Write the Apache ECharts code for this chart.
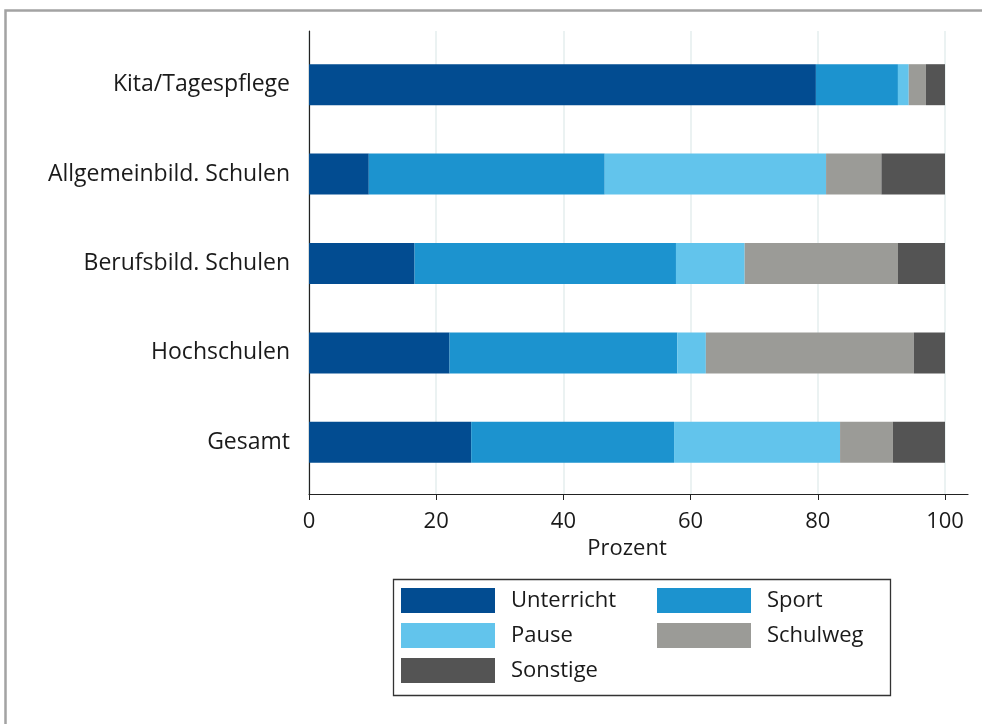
<!DOCTYPE html>
<html><head><meta charset="utf-8">
<script src="https://cdn.jsdelivr.net/npm/echarts@6/dist/echarts.min.js"></script>
<style>html,body{margin:0;padding:0;background:#fff}#c{width:982px;height:724px}</style>
</head><body><div id="c"></div>
<script>
const categories = ['Kita/Tagespflege','Allgemeinbild. Schulen','Berufsbild. Schulen','Hochschulen','Gesamt'];
const unterricht = [79.7, 9.4, 16.6, 22.1, 25.5];
const sport      = [12.9, 37.1, 41.1, 35.8, 31.9];
const pause      = [1.7, 34.8, 10.8, 4.5, 26.1];
const schulweg   = [2.7, 8.7, 24.1, 32.7, 8.3];
const sonstige   = [3.0, 10.0, 7.4, 4.9, 8.2];
const seriesNames = ['Unterricht','Sport','Pause','Schulweg','Sonstige'];
const colors = ['#024c91','#1c93cf','#62c4ec','#9b9b97','#545454'];
const xTicks = [0,20,40,60,80,100];

const FONT = '"Open Sans", sans-serif';
const FS = 22;
const chart = echarts.init(document.getElementById('c'), null, {renderer:'canvas'});
const values = [unterricht, sport, pause, schulweg, sonstige];

chart.setOption({
  animation:false,
  textStyle:{fontFamily:FONT},
  grid:[
    {left:309, right:37, top:31, bottom:230},
    {left:309, right:37, top:40, bottom:237},
    {left:309, right:14, top:31, bottom:230}
  ],
  xAxis:[
    {gridIndex:0, type:'value', min:0, max:100, interval:20,
     axisLine:{show:false},
     axisTick:{show:true, length:6, lineStyle:{color:'#222', width:1}},
     axisLabel:{color:'#1a1a1a', fontSize:FS, margin:17, fontFamily:FONT},
     splitLine:{show:true, lineStyle:{color:'#e4eeee', width:1.5}},
     name:'Prozent', nameLocation:'middle', nameGap:44,
     nameTextStyle:{color:'#1a1a1a', fontSize:FS, fontFamily:FONT}},
    {gridIndex:1, type:'value', min:0, max:100, show:false},
    {gridIndex:2, type:'value', min:0, max:1,
     axisLine:{show:true, lineStyle:{color:'#222', width:1.2}},
     axisTick:{show:false}, axisLabel:{show:false}, splitLine:{show:false}}
  ],
  yAxis:[
    {gridIndex:0, type:'value', show:false},
    {gridIndex:1, type:'category', data:categories, inverse:true,
     axisLine:{show:false}, axisTick:{show:false},
     axisLabel:{color:'#1a1a1a', fontSize:23, margin:19, fontFamily:FONT},
     splitLine:{show:false}},
    {gridIndex:2, type:'value', min:0, max:1,
     axisLine:{show:true, lineStyle:{color:'#222', width:1.2}},
     axisTick:{show:false}, axisLabel:{show:false}, splitLine:{show:false}}
  ],
  legend:[
    {orient:'vertical', left:401, top:588, padding:0, itemWidth:94, itemHeight:25, itemGap:10,
     icon:'rect', data:['Unterricht','Pause','Sonstige'],
     textStyle:{color:'#1a1a1a', fontSize:FS, fontFamily:FONT, padding:[0,0,0,11]}},
    {orient:'vertical', left:657, top:588, padding:0, itemWidth:94, itemHeight:25, itemGap:10,
     icon:'rect', data:['Sport','Schulweg'],
     textStyle:{color:'#1a1a1a', fontSize:FS, fontFamily:FONT, padding:[0,0,0,11]}}
  ],
  graphic:[
    {type:'rect', left:3, top:8, silent:true,
     shape:{x:0, y:0, width:1100, height:900},
     style:{fill:null, stroke:'#a3a3a3', lineWidth:2.5}},
    {type:'rect', left:391, top:577, silent:true,
     shape:{x:0, y:0, width:497, height:116},
     style:{fill:null, stroke:'#333', lineWidth:1.3}}
  ],
  series: seriesNames.map((n,i)=>({
    name:n, type:'bar', stack:'total', xAxisIndex:1, yAxisIndex:1,
    barWidth:41, data:values[i], itemStyle:{color:colors[i]}
  }))
});
</script></body></html>
